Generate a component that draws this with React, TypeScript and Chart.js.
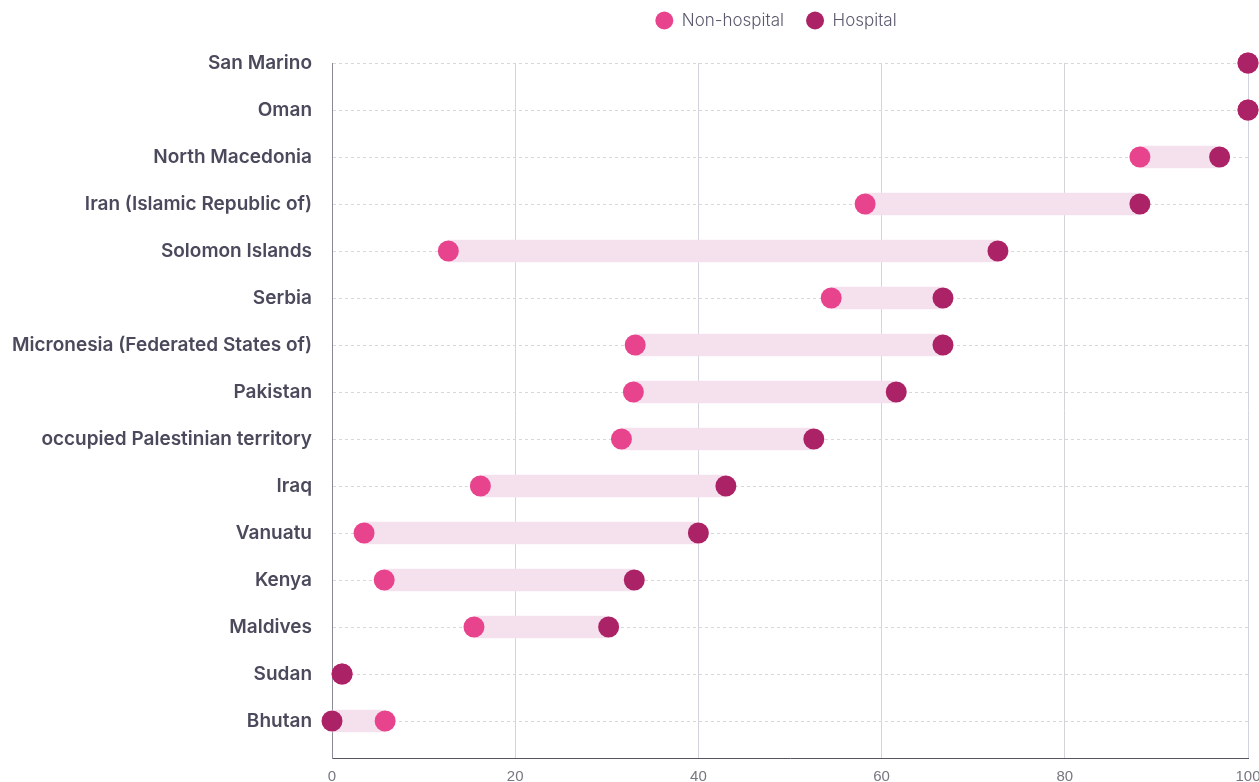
import React, { useEffect, useRef } from "react";
import { Chart, registerables } from "chart.js";

Chart.register(...registerables);

const categories = [
  "San Marino",
  "Oman",
  "North Macedonia",
  "Iran (Islamic Republic of)",
  "Solomon Islands",
  "Serbia",
  "Micronesia (Federated States of)",
  "Pakistan",
  "occupied Palestinian territory",
  "Iraq",
  "Vanuatu",
  "Kenya",
  "Maldives",
  "Sudan",
  "Bhutan",
];

const nonHospital = [100, 100, 88.2, 58.2, 12.7, 54.5, 33.1, 32.9, 31.6, 16.2, 3.5, 5.7, 15.5, 1.1, 5.8];
const hospital = [100, 100, 96.9, 88.2, 72.7, 66.7, 66.7, 61.6, 52.6, 43.0, 40.0, 33.0, 30.2, 1.1, 0];

const xTicks = [0, 20, 40, 60, 80, 100];

const NH_COLOR = "#e8448e";
const H_COLOR = "#ab2366";
const BAR_COLOR = "#f5e1ed";
const LABEL_COLOR = "#4a4a5c";
const FONT = "Inter, 'Noto Sans', sans-serif";
const TICK_FONT = "'Liberation Sans', Arial, sans-serif";

export default function App() {
  const ref = useRef<HTMLCanvasElement | null>(null);

  useEffect(() => {
    document.body.style.margin = "0";
    const canvas = ref.current;
    if (!canvas) return;

    const legendSpacer = {
      id: "legendSpacer",
      afterInit(chart: any) {
        const legend = chart.legend;
        if (!legend) return;
        const origFit = legend.fit.bind(legend);
        legend.fit = function () {
          origFit();
          this.height += 24;
        };
      },
      afterUpdate(chart: any) {
        const legend = chart.legend;
        if (!legend) return;
        legend.left -= 14;
        legend.right -= 14;
        if (legend.legendHitBoxes) {
          legend.legendHitBoxes.forEach((b: any) => (b.left -= 14));
        }
      },
    };

    const chart = new Chart(canvas, {
      type: "bar",
      data: {
        datasets: [
          {
            type: "line",
            label: "Non-hospital",
            data: nonHospital.map((v, i) => ({ x: v, y: i })),
            showLine: false,
            pointRadius: 10.5,
            pointHoverRadius: 10.5,
            pointBackgroundColor: NH_COLOR,
            pointBorderWidth: 0,
            backgroundColor: NH_COLOR,
            borderColor: NH_COLOR,
            borderWidth: 0,
            order: 1,
            clip: false,
          } as any,
          {
            type: "line",
            label: "Hospital",
            data: hospital.map((v, i) => ({ x: v, y: i })),
            showLine: false,
            pointRadius: 10.5,
            pointHoverRadius: 10.5,
            pointBackgroundColor: H_COLOR,
            pointBorderWidth: 0,
            backgroundColor: H_COLOR,
            borderColor: H_COLOR,
            borderWidth: 0,
            order: 0,
            clip: false,
          } as any,
          {
            type: "bar",
            label: "range",
            data: categories.map((_, i) => ({
              x: [Math.min(nonHospital[i], hospital[i]), Math.max(nonHospital[i], hospital[i])],
              y: i,
            })),
            backgroundColor: BAR_COLOR,
            borderWidth: 0,
            borderSkipped: false,
            barThickness: 22,
            order: 2,
          } as any,
        ],
      },
      options: {
        indexAxis: "y",
        animation: false,
        responsive: false,
        maintainAspectRatio: false,
        layout: { padding: { top: -10, right: 11, left: 0, bottom: 0 } },
        plugins: {
          tooltip: { enabled: false },
          legend: {
            position: "top",
            fullSize: false,
            labels: {
              usePointStyle: true,
              pointStyle: "circle",
              pointStyleWidth: 18,
              boxHeight: 12.73,
              padding: 22,
              color: "#5a5a6e",
              font: { family: FONT, size: 17, weight: "300" as any },
              filter: (item: any) => item.text !== "range",
              sort: (a: any, b: any) => a.datasetIndex - b.datasetIndex,
            },
          },
        },
        scales: {
          x: {
            type: "linear",
            min: 0,
            max: 100,
            afterBuildTicks: (s: any) => {
              s.ticks = xTicks.map((v) => ({ value: v }));
            },
            afterFit: (s: any) => {
              s.height = 24;
              s.paddingRight = 0;
              s.paddingLeft = 0;
            },
            grid: {
              color: (ctx: any) => (ctx.tick && ctx.tick.value === 0 ? "rgba(0,0,0,0)" : "#d3d3dd"),
              lineWidth: 1,
              drawTicks: false,
            },
            border: { display: true, color: "#555566", width: 1 },
            ticks: {
              color: "#777780",
              font: { family: TICK_FONT, size: 15 },
              padding: 10,
              maxRotation: 0,
            },
          },
          y: {
            type: "linear",
            reverse: true,
            offset: false,
            min: 0,
            max: 14.787,
            afterBuildTicks: (s: any) => {
              s.ticks = categories.map((_, i) => ({ value: i }));
            },
            afterFit: (s: any) => {
              s.width = 332;
              s.paddingTop = 0;
              s.paddingBottom = 0;
            },
            grid: {
              color: "#d8d8d8",
              lineWidth: 1,
              drawTicks: false,
              offset: false,
            },
            border: { display: true, color: "#8a8a96", width: 1, dash: [3, 3] },
            ticks: {
              color: LABEL_COLOR,
              font: { family: FONT, size: 19, weight: "600" as any },
              padding: 20,
              autoSkip: false,
              callback: (v: any) => categories[v as number] ?? "",
            },
          },
        },
      },
      plugins: [legendSpacer],
    } as any);

    return () => chart.destroy();
  }, []);

  return (
    <div style={{ width: 1259, height: 782 }}>
      <canvas ref={ref} width={1259} height={782} style={{ display: "block" }} />
    </div>
  );
}
